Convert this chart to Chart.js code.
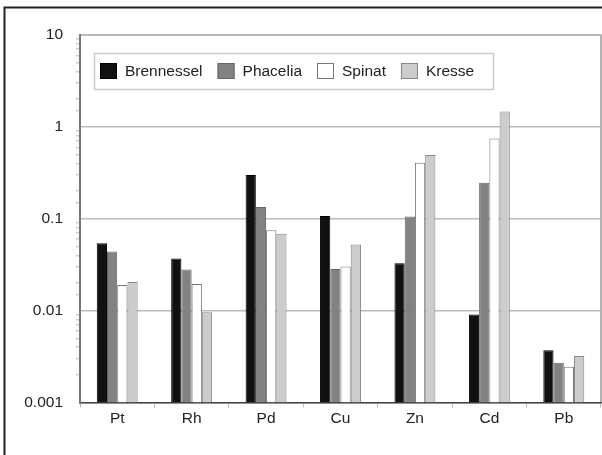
<!DOCTYPE html>
<html>
<head>
<meta charset="utf-8">
<script src="https://cdn.jsdelivr.net/npm/chart.js@4/dist/chart.umd.min.js"></script>
<style>
  html, body { margin: 0; padding: 0; background: #fff; }
  #wrap { position: relative; width: 602px; height: 455px; }
</style>
</head>
<body>
<div id="wrap"><canvas id="chart" width="602" height="455"></canvas></div>
<script>
const categories = ["Pt", "Rh", "Pd", "Cu", "Zn", "Cd", "Pb"];
const brennessel = [0.054, 0.037, 0.30, 0.107, 0.0327, 0.0091, 0.0037];
const phacelia = [0.044, 0.028, 0.134, 0.0284, 0.106, 0.247, 0.0027];
const spinat = [0.019, 0.0195, 0.075, 0.0303, 0.407, 0.748, 0.00245];
const kresse = [0.0205, 0.0096, 0.0686, 0.0525, 0.493, 1.47, 0.0032];
const yTickValues = [10, 1, 0.1, 0.01, 0.001];
const yTickLabels = ["10", "1", "0.1", "0.01", "0.001"];

const textColor = "#222";
const fontFamily = "'Liberation Sans', Arial, sans-serif";

function isDecade(value) {
  const power = Math.log10(value);
  return Math.abs(power - Math.round(power)) < 1e-9;
}

function labelFor(value) {
  const index = yTickValues.findIndex((tick) => Math.abs(tick - value) / tick < 1e-6);
  return index >= 0 ? yTickLabels[index] : "";
}

// outer frame + plot border
const framePlugin = {
  id: "frame",
  beforeDraw(chart) {
    const { ctx, chartArea } = chart;
    ctx.save();
    ctx.strokeStyle = "#222";
    ctx.lineWidth = 2;
    ctx.strokeRect(4.5, 7.5, 800, 700);
    ctx.strokeStyle = "#999";
    ctx.lineWidth = 1.5;
    ctx.beginPath();
    ctx.moveTo(chartArea.left, chartArea.top);
    ctx.lineTo(chartArea.right, chartArea.top);
    ctx.lineTo(chartArea.right, chartArea.bottom);
    ctx.stroke();
    ctx.restore();
  },
};

// legend box drawn inside the plot area
const boxLegendPlugin = {
  id: "boxLegend",
  afterDraw(chart) {
    const { ctx } = chart;
    const box = { x: 94, y: 53, w: 399, h: 36 };
    ctx.save();
    ctx.fillStyle = "#fff";
    ctx.fillRect(box.x, box.y, box.w, box.h);
    ctx.strokeStyle = "#ccc";
    ctx.lineWidth = 1.5;
    ctx.strokeRect(box.x + 0.5, box.y + 0.5, box.w, box.h);
    ctx.font = "15.5px " + fontFamily;
    ctx.textBaseline = "middle";
    let x = 100;
    const midY = box.y + box.h / 2;
    chart.data.datasets.forEach((dataset) => {
      ctx.fillStyle = dataset.backgroundColor;
      ctx.fillRect(x, midY - 8, 17, 16);
      ctx.strokeStyle = dataset.borderColor;
      ctx.lineWidth = 1;
      ctx.strokeRect(x + 0.5, midY - 7.5, 16, 15);
      ctx.fillStyle = textColor;
      ctx.fillText(dataset.label, x + 25, midY + 1);
      x += 25 + ctx.measureText(dataset.label).width + 15;
    });
    ctx.restore();
  },
};

new Chart(document.getElementById("chart"), {
  type: "bar",
  data: {
    labels: categories,
    datasets: [
      { label: "Brennessel", data: brennessel, backgroundColor: "#111", borderColor: "#000" },
      { label: "Phacelia", data: phacelia, backgroundColor: "#828282", borderColor: "#666" },
      { label: "Spinat", data: spinat, backgroundColor: "#fff", borderColor: "#777" },
      { label: "Kresse", data: kresse, backgroundColor: "#cccccc", borderColor: "#888" },
    ].map((set) => ({ ...set, borderWidth: 1, categoryPercentage: 0.55, barPercentage: 1 })),
  },
  plugins: [framePlugin, boxLegendPlugin],
  options: {
    responsive: false,
    animation: false,
    layout: { padding: { top: 35, right: 1, left: 0, bottom: 0 } },
    plugins: {
      legend: { display: false },
      tooltip: { enabled: false },
    },
    scales: {
      x: {
        afterFit: (scale) => { scale.height = 52.5; },
        grid: {
          offset: true,
          drawOnChartArea: false,
          drawTicks: true,
          tickLength: 5,
          color: "#bbb",
        },
        border: { color: "#444", width: 1.5 },
        ticks: { color: textColor, font: { family: fontFamily, size: 15.5 }, padding: 2 },
      },
      y: {
        type: "logarithmic",
        min: 0.001,
        max: 10,
        afterFit: (scale) => { scale.width = 80; },
        grid: {
          drawTicks: true,
          tickLength: 4,
          color: (context) => (isDecade(context.tick.value) ? "#bbb" : "rgba(0,0,0,0)"),
          tickColor: (context) => (isDecade(context.tick.value) ? "rgba(0,0,0,0)" : "#ccc"),
          lineWidth: 1.5,
        },
        border: { color: "#777", width: 2 },
        ticks: {
          autoSkip: false,
          color: textColor,
          padding: 13,
          font: { family: fontFamily, size: 15.5 },
          callback: (value) => labelFor(value),
        },
      },
    },
  },
});
</script>
</body>
</html>
